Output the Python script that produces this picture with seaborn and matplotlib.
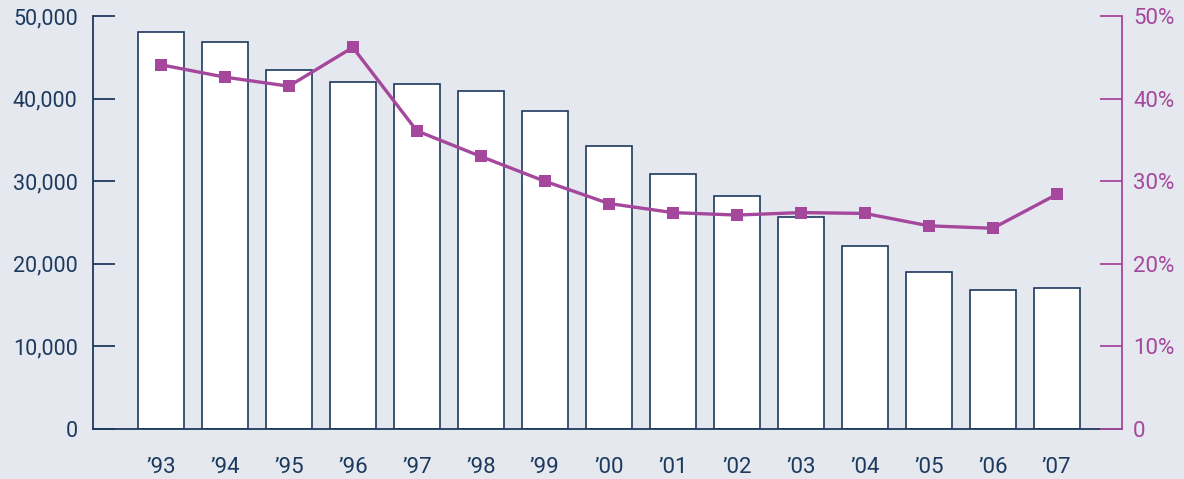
import numpy as np
import pandas as pd
import matplotlib
matplotlib.use("Agg")
import matplotlib.pyplot as plt
import seaborn as sns

years = ["’93", "’94", "’95", "’96", "’97", "’98", "’99", "’00", "’01", "’02", "’03", "’04", "’05", "’06", "’07"]
counts = [48100, 46900, 43500, 42000, 41800, 40900, 38500, 34300, 30900, 28200, 25700, 22150, 19000, 16800, 17100]
share_pct = [44.1, 42.6, 41.5, 46.2, 36.1, 33.0, 30.0, 27.3, 26.2, 25.9, 26.2, 26.1, 24.6, 24.3, 28.4]
left_ticks = [0, 10000, 20000, 30000, 40000, 50000]
left_labels = ["0", "10,000", "20,000", "30,000", "40,000", "50,000"]
right_ticks = [0, 10, 20, 30, 40, 50]
right_labels = ["0", "10%", "20%", "30%", "40%", "50%"]

BG = "#E5E8EE"
NAVY = "#1D3A5E"
PURPLE = "#A5479C"

sns.set_style("white")
plt.rcParams['font.family'] = ['Roboto', 'DejaVu Sans']

df = pd.DataFrame({"year": years, "count": counts, "pct": share_pct})

fig = plt.figure(figsize=(11.84, 4.79), dpi=100, facecolor=BG)
ax = fig.add_axes([93/1184, 1 - 429/479, (1122 - 93)/1184, (429 - 16)/479])
ax.set_facecolor(BG)

sns.barplot(data=df, x="year", y="count", ax=ax, color="white", edgecolor=NAVY,
            linewidth=1.2, width=0.72, saturation=1)
ax.set_xlim(-1.06, 15.02)
ax.set_ylim(0, 50000)
ax.set_yticks(left_ticks)
ax.set_yticklabels(left_labels)
ax.set_xlabel("")
ax.set_ylabel("")
for s in ["top", "right"]:
    ax.spines[s].set_visible(False)
ax.spines["left"].set_color(NAVY)
ax.spines["bottom"].set_color(NAVY)
ax.spines["left"].set_linewidth(1.3)
ax.spines["bottom"].set_linewidth(1.3)
ax.tick_params(axis="y", direction="in", length=16, width=1.3, color=NAVY,
               labelcolor=NAVY, labelsize=15.5, pad=11)
ax.tick_params(axis="x", length=0, labelcolor=NAVY, labelsize=16, pad=20)

ax2 = ax.twinx()
sns.lineplot(x=np.arange(len(years)), y=share_pct, ax=ax2, color=PURPLE,
             linewidth=2.4, marker="s", markersize=9, markeredgewidth=0,
             markerfacecolor=PURPLE)
ax2.set_xlim(-1.06, 15.02)
ax2.set_ylim(0, 50)
ax2.set_yticks(right_ticks)
ax2.set_yticklabels(right_labels)
for s in ["top", "left", "bottom"]:
    ax2.spines[s].set_visible(False)
ax2.spines["right"].set_color(PURPLE)
ax2.spines["right"].set_linewidth(1.3)
ax2.tick_params(axis="y", direction="in", length=16, width=1.3, color=PURPLE,
                labelcolor=PURPLE, labelsize=16, pad=8)

fig.savefig("out.png", dpi=100, facecolor=BG)
